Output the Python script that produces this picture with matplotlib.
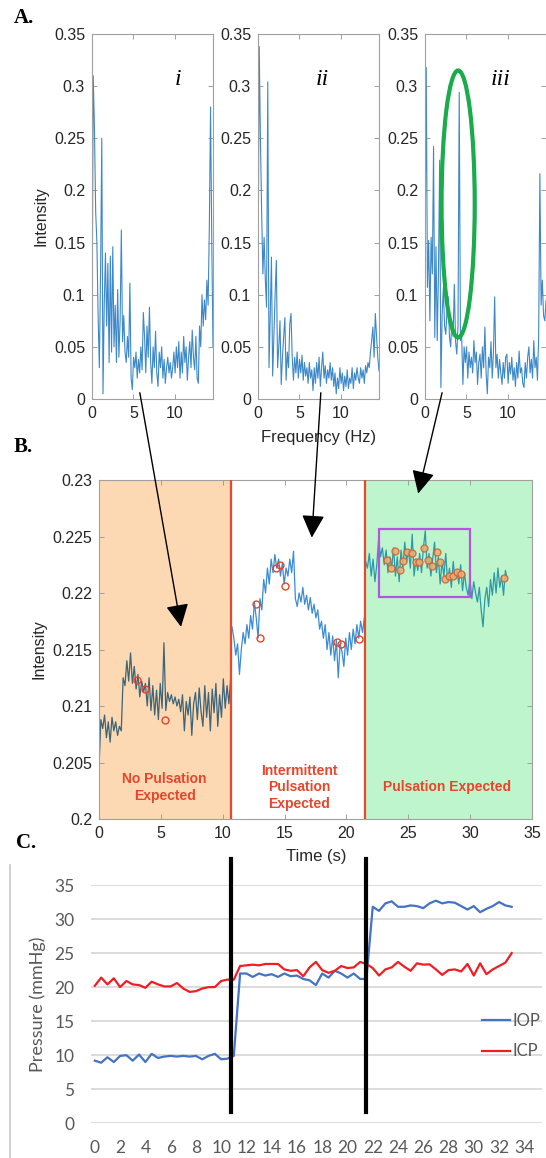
import numpy as np
import matplotlib
matplotlib.use("Agg")
import matplotlib.pyplot as plt
from matplotlib.patches import Ellipse, Rectangle, ConnectionPatch
from matplotlib.lines import Line2D
from matplotlib.ticker import FormatStrFormatter, MultipleLocator

# ---------------- data ----------------
# A. spectra (intensity vs frequency, 0 .. 14.6 Hz)
spec_i = [0.05, 0.31, 0.26, 0.18, 0.15, 0.08, 0.03, 0.12, 0.25, 0.005,
          0.09, 0.14, 0.07, 0.13, 0.035, 0.137, 0.045, 0.146, 0.05, 0.09,
          0.035, 0.105, 0.04, 0.075, 0.162, 0.055, 0.08, 0.045, 0.035, 0.06,
          0.04, 0.111, 0.02, 0.009, 0.04, 0.03, 0.045, 0.02, 0.038, 0.025,
          0.05, 0.028, 0.083, 0.06, 0.025, 0.07, 0.04, 0.088, 0.035, 0.015,
          0.05, 0.03, 0.065, 0.025, 0.012, 0.045, 0.03, 0.05, 0.02, 0.038,
          0.015, 0.03, 0.04, 0.025, 0.035, 0.02, 0.03, 0.045, 0.025, 0.05,
          0.03, 0.055, 0.02, 0.045, 0.025, 0.06, 0.035, 0.05, 0.018, 0.04,
          0.055, 0.03, 0.066, 0.04, 0.028, 0.06, 0.02, 0.015, 0.07, 0.05,
          0.1, 0.07, 0.095, 0.076, 0.114, 0.09, 0.165, 0.28, 0.15, 0.05]
spec_ii = [0.10, 0.338, 0.248, 0.178, 0.12, 0.155, 0.114, 0.088, 0.304, 0.03,
           0.08, 0.136, 0.022, 0.06, 0.1, 0.133, 0.03, 0.05, 0.075, 0.014,
           0.04, 0.06, 0.078, 0.018, 0.045, 0.03, 0.072, 0.082, 0.04, 0.018,
           0.04, 0.025, 0.045, 0.02, 0.038, 0.025, 0.042, 0.018, 0.035, 0.022,
           0.03, 0.015, 0.035, 0.02, 0.028, 0.008, 0.03, 0.015, 0.035, 0.02,
           0.04, 0.012, 0.03, 0.045, 0.02, 0.032, 0.015, 0.028, 0.02, 0.035,
           0.018, 0.03, 0.012, 0.025, 0.005, 0.02, 0.01, 0.03, 0.015, 0.025,
           0.008, 0.022, 0.012, 0.028, 0.01, 0.02, 0.015, 0.03, 0.01, 0.025,
           0.018, 0.03, 0.02, 0.015, 0.03, 0.02, 0.028, 0.015, 0.032, 0.025,
           0.035, 0.03, 0.045, 0.056, 0.069, 0.04, 0.082, 0.06, 0.04, 0.027]
spec_iii = [0.12, 0.318, 0.107, 0.152, 0.075, 0.155, 0.12, 0.242, 0.059, 0.146,
            0.056, 0.12, 0.229, 0.011, 0.08, 0.107, 0.07, 0.062, 0.085, 0.098,
            0.06, 0.05, 0.075, 0.06, 0.11, 0.055, 0.043, 0.07, 0.294, 0.056,
            0.06, 0.014, 0.05, 0.035, 0.05, 0.02, 0.045, 0.03, 0.04, 0.025,
            0.056, 0.035, 0.045, 0.014, 0.035, 0.043, 0.02, 0.05, 0.03, 0.069,
            0.025, 0.005, 0.04, 0.03, 0.055, 0.02, 0.045, 0.098, 0.03, 0.043,
            0.02, 0.038, 0.025, 0.014, 0.035, 0.02, 0.04, 0.043, 0.015, 0.035,
            0.024, 0.04, 0.018, 0.03, 0.012, 0.035, 0.02, 0.046, 0.025, 0.03,
            0.015, 0.011, 0.035, 0.02, 0.04, 0.05, 0.025, 0.038, 0.02, 0.056,
            0.03, 0.04, 0.018, 0.06, 0.216, 0.09, 0.114, 0.08, 0.075, 0.094]
spec_labels = ["i", "ii", "iii"]
freq_max = 14.6

# B. intensity time trace, three phases
seg1 = [0.2045, 0.2088, 0.2080, 0.2092, 0.2072, 0.2086, 0.2068, 0.2090, 0.2078, 0.2086,
        0.2074, 0.2082, 0.2078, 0.2125, 0.2118, 0.2140, 0.2122, 0.2147, 0.2120, 0.2135,
        0.2115, 0.2128, 0.2108, 0.2122, 0.2112, 0.2120, 0.2100, 0.2125, 0.2096, 0.2118,
        0.2092, 0.2114, 0.2088, 0.2120, 0.2098, 0.2156, 0.2096, 0.2112, 0.2104, 0.2110,
        0.2102, 0.2108, 0.2100, 0.2106, 0.2095, 0.2110, 0.2078, 0.2104, 0.2092, 0.2108,
        0.2074, 0.2102, 0.2112, 0.2088, 0.2116, 0.2095, 0.2082, 0.2118, 0.2090, 0.2112,
        0.2078, 0.2115, 0.2094, 0.2120, 0.2082, 0.2110, 0.2090, 0.2124, 0.2098, 0.2118,
        0.2102, 0.2126]
seg2 = [0.2170, 0.2160, 0.2145, 0.2155, 0.2128, 0.2150, 0.2165, 0.2155, 0.2172, 0.2160,
        0.2180, 0.2168, 0.2192, 0.2178, 0.2160, 0.2195, 0.2185, 0.2212, 0.2200, 0.2222,
        0.2208, 0.2230, 0.2218, 0.2234, 0.2222, 0.2230, 0.2215, 0.2226, 0.2208, 0.2222,
        0.2215, 0.2230, 0.2218, 0.2237, 0.2195, 0.2188, 0.2200, 0.2192, 0.2205, 0.2190,
        0.2198, 0.2185, 0.2196, 0.2182, 0.2190, 0.2178, 0.2185, 0.2168, 0.2175, 0.2160,
        0.2172, 0.2150, 0.2165, 0.2145, 0.2162, 0.2140, 0.2158, 0.2125, 0.2155, 0.2148,
        0.2135, 0.2160, 0.2145, 0.2165, 0.2150, 0.2168, 0.2155, 0.2172, 0.2160, 0.2175,
        0.2165, 0.2178]
seg3 = [0.2228, 0.2222, 0.2235, 0.2215, 0.2230, 0.2210, 0.2225, 0.2248, 0.2232, 0.2240,
        0.2225, 0.2238, 0.2218, 0.2232, 0.2222, 0.2240, 0.2215, 0.2232, 0.2210, 0.2238,
        0.2222, 0.2245, 0.2228, 0.2238, 0.2222, 0.2252, 0.2215, 0.2230, 0.2220, 0.2235,
        0.2218, 0.2240, 0.2255, 0.2222, 0.2235, 0.2215, 0.2230, 0.2245, 0.2218, 0.2232,
        0.2208, 0.2228, 0.2215, 0.2235, 0.2210, 0.2222, 0.2205, 0.2228, 0.2212, 0.2220,
        0.2208, 0.2225, 0.2202, 0.2218, 0.2205, 0.2198, 0.2212, 0.2195, 0.2210, 0.2200,
        0.2192, 0.2205, 0.2185, 0.2170, 0.2195, 0.2205, 0.2188, 0.2212, 0.2198, 0.2218,
        0.2200, 0.2222, 0.2205, 0.2215, 0.2198, 0.2220, 0.2212]
seg_spans = [(0.0, 10.65), (10.75, 21.45), (21.55, 33.0)]
peaks1_t = [3.1, 3.7, 5.3]
peaks1_v = [0.2123, 0.2115, 0.2088]
peaks2_t = [12.7, 13.0, 14.3, 14.6, 15.0, 19.2, 19.6, 21.0]
peaks2_v = [0.2190, 0.2160, 0.2222, 0.2225, 0.2206, 0.2157, 0.2155, 0.2159]
peaks3_t = [23.3, 23.6, 23.9, 24.3, 24.6, 24.9, 25.3, 25.6, 25.9, 26.3,
            26.6, 26.95, 27.3, 27.6, 28.0, 28.3, 28.6, 28.95, 29.3, 32.7]
peaks3_v = [0.2229, 0.2222, 0.2237, 0.2220, 0.2228, 0.2236, 0.2235, 0.2227, 0.2227, 0.2240,
            0.2229, 0.2224, 0.2236, 0.2227, 0.2212, 0.2215, 0.2215, 0.2219, 0.2217, 0.2213]
phase_edges = [0.0, 10.7, 21.5, 35.0]
phase_labels = ["No Pulsation\nExpected", "Intermittent\nPulsation\nExpected",
                "Pulsation Expected"]
phase_label_x = [5.3, 16.2, 28.1]
roi_box = (22.6, 0.21964, 30.0, 0.2257)   # t0, v0, t1, v1

# C. pressures
t_c = np.arange(0, 33.5, 0.5)
iop = [9.2, 8.9, 9.7, 9.0, 9.9, 10.0, 9.2, 10.1, 9.0, 10.2, 9.6, 9.8, 9.9, 9.8, 9.9,
       9.8, 9.9, 9.4, 9.9, 10.2, 9.4, 9.5, 9.9,
       22.0, 22.0, 21.5, 22.0, 21.7, 21.9, 21.5, 22.0, 21.6, 21.7, 21.2, 21.0, 20.3,
       22.0, 21.4, 22.4, 22.0, 21.4, 22.0, 21.2, 21.2,
       31.8, 31.2, 32.3, 32.6, 31.8, 31.8, 32.0, 31.9, 31.6, 32.3, 32.7, 32.3, 32.5,
       32.4, 31.9, 31.4, 31.9, 31.0, 31.5, 31.9, 32.5, 32.0, 31.8]
icp = [20.2, 21.4, 20.4, 21.3, 20.0, 20.9, 20.4, 20.3, 19.9, 20.8, 20.4, 20.1, 20.1,
       20.6, 19.8, 19.3, 19.4, 19.8, 20.0, 20.0, 20.9, 21.1, 21.1,
       23.1, 23.2, 23.3, 23.2, 23.4, 23.4, 23.4, 22.6, 22.4, 22.5, 21.6, 22.9, 23.7,
       22.5, 22.1, 22.4, 23.1, 22.8, 22.9, 23.7, 23.4,
       22.8, 21.7, 22.6, 22.9, 23.7, 23.0, 22.4, 23.5, 23.3, 23.35, 22.6, 21.8, 22.5,
       22.6, 22.3, 23.4, 21.7, 23.5, 21.9, 22.6, 23.1, 23.6, 25.0]
c_boundaries = [10.75, 21.5]

# ---------------- figure ----------------
W, H = 546, 1158
fig = plt.figure(figsize=(W / 100, H / 100), dpi=100)
plt.rcParams['font.family'] = ['Liberation Sans', 'DejaVu Sans']


def box(x0, y0, x1, y1):
    # pixel box (top-left origin) -> figure fraction rect
    return [x0 / W, 1 - y1 / H, (x1 - x0) / W, (y1 - y0) / H]


def matlab_axes(ax):
    for s in ax.spines.values():
        s.set_color('#a0a0a0')
        s.set_linewidth(0.8)
    ax.tick_params(direction='in', length=3.5, width=0.7, color='#a0a0a0',
                   top=True, right=True, labelsize=11.5, labelcolor='#262626', pad=5)


blue = '#3d88c8'
spectra = [spec_i, spec_ii, spec_iii]
lefts = [92, 258, 425]
axA = []
for k, spec in enumerate(spectra):
    ax = fig.add_axes(box(lefts[k], 34, lefts[k] + 121, 399))
    f = np.linspace(0, freq_max, len(spec))
    ax.plot(f, spec, color=blue, lw=0.8)
    ax.set_xlim(0, freq_max)
    ax.set_ylim(0, 0.35)
    ax.xaxis.set_major_locator(MultipleLocator(5))
    ax.yaxis.set_major_locator(MultipleLocator(0.05))
    ax.yaxis.set_major_formatter(FormatStrFormatter('%g'))
    matlab_axes(ax)
    ax.text([10.4, 7.8, 9.1][k], 0.306, spec_labels[k], fontsize=17,
            family='Liberation Serif', style='italic', ha='center', va='center')
    axA.append(ax)
axA[0].set_ylabel('Intensity', fontsize=11.5, color='#262626', labelpad=4)
axA[2].add_patch(Ellipse((4.0, 0.187), 4.0, 0.256, fill=False,
                         edgecolor='#1aab4a', lw=3, clip_on=False, zorder=5))
fig.text(319 / W, 1 - 437 / H, 'Frequency (Hz)', fontsize=12, color='#262626',
         ha='center', va='center')

# B
axB = fig.add_axes(box(99, 480, 532, 819))
axB.axvspan(phase_edges[0], phase_edges[1], color='#fcd9b3', lw=0, zorder=0)
axB.axvspan(phase_edges[2], phase_edges[3], color='#bff5cc', lw=0, zorder=0)
for e in phase_edges[1:3]:
    axB.axvline(e, color='#e64a2e', lw=1.6, zorder=3)
seg_colors = ['#3d6478', '#3a8cd4', '#2a9aa8']
for seg, (t0, t1), c in zip([seg1, seg2, seg3], seg_spans, seg_colors):
    axB.plot(np.linspace(t0, t1, len(seg)), seg, color=c, lw=0.9, zorder=2)
axB.plot(peaks1_t, peaks1_v, 'o', ms=5, mfc='none', mec='#e8452a', mew=1, zorder=4)
axB.plot(peaks2_t, peaks2_v, 'o', ms=5, mfc='none', mec='#e8452a', mew=1, zorder=4)
axB.plot(peaks3_t, peaks3_v, 'o', ms=5, mfc='#e6b070', mec='#d0603a', mew=1,
         alpha=0.85, zorder=4)
t0, v0, t1, v1 = roi_box
axB.add_patch(Rectangle((t0, v0), t1 - t0, v1 - v0, fill=False,
                        edgecolor='#b455e0', lw=1.6, zorder=5))
for lab, x in zip(phase_labels, phase_label_x):
    axB.text(x, 0.2028, lab, color='#e8452a', fontsize=10, fontweight='bold',
             ha='center', va='center', linespacing=1.25, zorder=6)
axB.set_xlim(0, 35)
axB.set_ylim(0.2, 0.23)
axB.xaxis.set_major_locator(MultipleLocator(5))
axB.yaxis.set_major_locator(MultipleLocator(0.005))
axB.yaxis.set_major_formatter(FormatStrFormatter('%g'))
matlab_axes(axB)
axB.set_ylabel('Intensity', fontsize=11.5, color='#262626', labelpad=4)
fig.text(316 / W, 1 - 857 / H, 'Time (s)', fontsize=12, color='#262626',
         ha='center', va='center')

# arrows from spectra to the trace
starts = [(5.77, 0.006), (7.58, 0.006), (2.06, 0.006)]
ends = [(6.63, 0.2170), (17.2, 0.2249), (25.8, 0.2288)]
for k in range(3):
    con = ConnectionPatch(starts[k], ends[k], coordsA=axA[k].transData,
                          coordsB=axB.transData,
                          arrowstyle='-|>,head_length=0.7,head_width=0.35',
                          mutation_scale=20, color='black', lw=1, zorder=10)
    fig.add_artist(con)

# C
axC = fig.add_axes(box(91.3, 885, 542, 1123.3))
axC.plot(t_c, iop, color='#4472c4', lw=1.6, label='IOP')
axC.plot(t_c, icp, color='#f01e23', lw=1.6, label='ICP')
for b in c_boundaries:
    axC.plot([b, b], [1.7, 38.8], color='black', lw=3, clip_on=False, zorder=5)
axC.set_xlim(-0.28, 35.4)
axC.set_ylim(0, 35)
axC.set_xticks(np.arange(0, 35, 2))
axC.yaxis.set_major_locator(MultipleLocator(5))
axC.grid(axis='y', color='#d9d9d9', lw=1.3)
axC.set_axisbelow(True)
for s in axC.spines.values():
    s.set_visible(False)
axC.tick_params(length=0, labelsize=12.5, labelcolor='#595959')
axC.tick_params(axis='y', pad=12)
axC.tick_params(axis='x', pad=12)
for lab in axC.get_xticklabels() + axC.get_yticklabels():
    lab.set_family(['Lato', 'DejaVu Sans'])
axC.set_ylabel('Pressure (mmHg)', fontsize=13, color='#595959',
               family=['Lato', 'DejaVu Sans'], labelpad=6)
axC.legend(loc='center left', bbox_to_anchor=(482 / W, 1 - 1036 / H),
           bbox_transform=fig.transFigure, frameon=False, handlelength=1.7,
           handletextpad=0.1, labelspacing=0.9, borderpad=0, borderaxespad=0,
           prop={'family': ['Lato', 'DejaVu Sans'], 'size': 12},
           labelcolor='#595959')
fig.add_artist(Line2D([10.4 / W, 10.4 / W], [0, 1 - 865 / H], color='#c8c8c8', lw=1.2))

# panel letters
for lab, x, y in [('A.', 14, 18), ('B.', 14, 447), ('C.', 16, 843)]:
    fig.text(x / W, 1 - y / H, lab, fontsize=15, fontweight='bold',
             family='Liberation Serif', va='center', ha='left')

fig.savefig('out.png', dpi=100)
